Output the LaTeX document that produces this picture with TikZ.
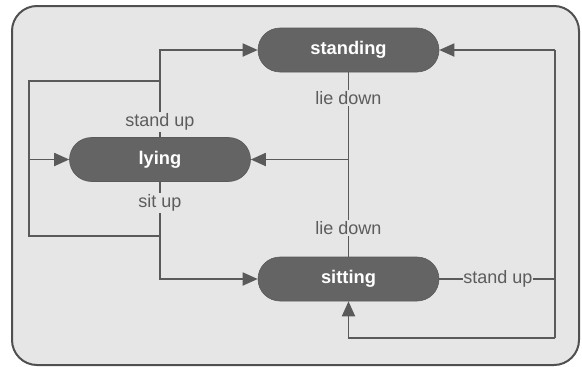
\documentclass[tikz,border=0pt]{standalone}
\usepackage{fontspec}
\setmainfont{Liberation Sans}
\usetikzlibrary{arrows.meta}
\definecolor{bgc}{HTML}{E6E6E6}
\definecolor{framec}{HTML}{505050}
\definecolor{nodec}{HTML}{646464}
\definecolor{linec}{HTML}{5A5A5A}
\definecolor{txtc}{HTML}{5C5C5C}
\tikzset{
  state/.style={draw=nodec!90!black, line width=0.6pt, fill=nodec, text=white, font=\fontsize{18.3}{21}\selectfont\bfseries,
    minimum width=181pt, minimum height=44pt, rounded corners=22pt, inner sep=0pt},
  conn/.style={draw=linec, line width=1.8pt},
  arr/.style={conn, -{Triangle[length=15pt,width=13pt]}},
  lbl/.style={fill=bgc, text=txtc, font=\fontsize{18}{21}\selectfont, inner sep=1.5pt}
}
\begin{document}
\begin{tikzpicture}[x=1pt,y=-1pt]
\useasboundingbox (0,0) rectangle (582,367);
\draw[fill=bgc, draw=framec, line width=2pt, rounded corners=25pt] (12,6) rectangle (579,365);
\node[state] (standing) at (348.5,50) {standing};
\node[state] (lying) at (160,159.5) {lying};
\node[state] (sitting) at (348.5,279) {sitting};
\coordinate (j1) at (160,81);
\coordinate (j2) at (160,236);
\coordinate (l1) at (29,81);
\coordinate (l2) at (29,236);
\coordinate (l3) at (29,159.5);
\coordinate (j3) at (348.5,159.5);
\coordinate (r1) at (555,50);
\coordinate (r2) at (555,338);
\coordinate (r3) at (555,279);
\draw[conn] (j1) -- (l1) -- (l2) -- (j2);
\draw[arr] (l3) -- (lying.west);
\draw[arr] (lying.north) |- (standing.west);
\draw[arr] (lying.south) |- (sitting.west);
\draw[conn] (standing.south) -- (sitting.north);
\draw[arr] (j3) -- (lying.east);
\draw[arr] (r1) -- (standing.east);
\draw[conn] (r1) -- (r2);
\draw[arr] (r2) -| (sitting.south);
\draw[conn] (sitting.east) -- (r3);
\node[lbl] (l_su1) at (160,122) {stand up};
\node[lbl] (l_sit) at (160,203) {sit up};
\node[lbl] (l_ld1) at (348.5,98) {lie down};
\node[lbl] (l_ld2) at (348.5,228) {lie down};
\node[lbl, inner xsep=0.5pt] (l_su2) at (498,279) {stand up};
\end{tikzpicture}
\end{document}
